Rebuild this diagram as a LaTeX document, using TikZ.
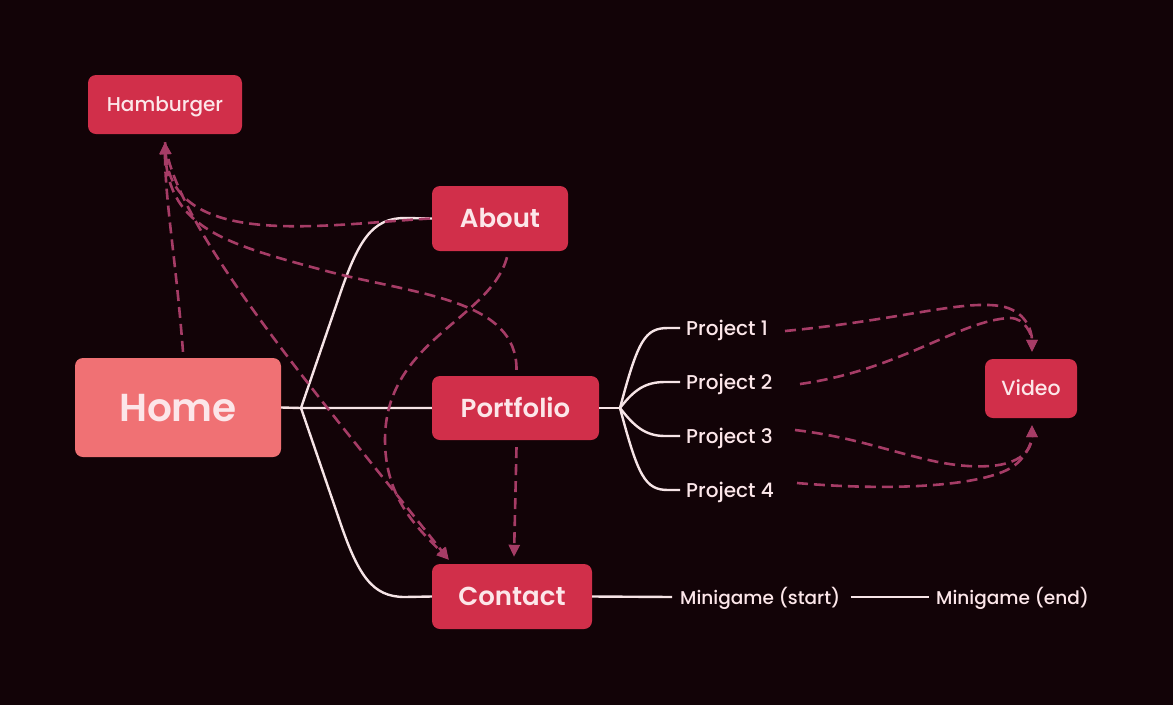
\documentclass[tikz,border=0pt]{standalone}
\usepackage{fontspec}
\setmainfont{Poppins}
\newfontfamily\semib{Poppins SemiBold}
\newfontfamily\medf{Poppins Medium}
\usetikzlibrary{arrows.meta,calc}
\definecolor{bg}{HTML}{120307}
\definecolor{boxred}{HTML}{D12F4A}
\definecolor{homered}{HTML}{F07174}
\definecolor{txt}{HTML}{FCE6E9}
\definecolor{wline}{HTML}{F6E4E6}
\definecolor{dline}{HTML}{A63C66}
\begin{document}
\begin{tikzpicture}[x=1pt,y=-1pt,
 box/.style={fill=boxred,rounded corners=8pt,text=txt,inner sep=0pt,align=center,text depth=0pt},
 bigbox/.style={box,font=\semib\fontsize{26}{30}\selectfont,text height=18.5pt},
 lab/.style={text=txt,inner xsep=6pt,inner ysep=0pt,anchor=west},
 tree/.style={draw=wline,line width=2.4pt},
 link/.style={draw=dline,line width=2.6pt,dash pattern=on 11pt off 6pt},
 tip/.style={-{Triangle[length=12pt,width=11pt]}}
]
\fill[bg] (0,0) rectangle (1173,705);
\useasboundingbox (0,0) rectangle (1173,705);

% nodes
\node[box,minimum width=154pt,minimum height=59pt,font=\medf\fontsize{20}{24}\selectfont,text height=14pt] (ham) at (165,104.5) {Hamburger};
\node[bigbox,minimum width=136pt,minimum height=65pt] (about) at (500,218.5) {About};
\node[box,fill=homered,minimum width=206pt,minimum height=99pt,font=\semib\fontsize{39}{44}\selectfont,text height=27.5pt] (home) at (178,407.5) {Home};
\node[bigbox,minimum width=167pt,minimum height=64pt] (port) at (515.5,408) {Portfolio};
\node[bigbox,minimum width=160pt,minimum height=65pt] (contact) at (512,596.5) {Contact};
\node[box,minimum width=92pt,minimum height=59pt,font=\medf\fontsize{20.5}{24}\selectfont,text height=14.5pt] (video) at (1031,388.5) {Video};

\node[lab,font=\medf\fontsize{20}{24}\selectfont] (p1) at (680,330) {Project 1};
\node[lab,font=\medf\fontsize{20}{24}\selectfont] (p2) at (680,384) {Project 2};
\node[lab,font=\medf\fontsize{20}{24}\selectfont] (p3) at (680,438) {Project 3};
\node[lab,font=\medf\fontsize{20}{24}\selectfont] (p4) at (680,492) {Project 4};
\node[lab,font=\medf\fontsize{18.5}{22}\selectfont] (mgs) at (674,598) {Minigame (start)};
\node[lab,font=\medf\fontsize{18.5}{22}\selectfont] (mge) at (930,598) {Minigame (end)};

% tree lines
\coordinate (hj) at (301,408);
\draw[tree] (home.east) -- (hj) -- (port.west);
\draw[tree] (hj) -- (338,300) .. controls (358,240) and (372,218) .. (405,218) -- (about.west);
\draw[tree] (hj) -- (338,516) .. controls (358,576) and (372,597) .. (405,597) -- (contact.west);
\coordinate (pj) at (620,408);
\draw[tree] (port.east) -- (pj);
\draw[tree] (pj) .. controls (638,340) and (645,328) .. (668,328) -- (680,328);
\draw[tree] (pj) .. controls (634,390) and (645,382) .. (665,382) -- (680,382);
\draw[tree] (pj) .. controls (634,426) and (645,436) .. (665,436) -- (680,436);
\draw[tree] (pj) .. controls (638,476) and (645,490) .. (668,490) -- (680,490);
\draw[tree] (contact.east) -- (672,597);
\draw[tree] ([xshift=4pt]mgs.east |- 0,597) -- (929,597);

% dashed links
\coordinate (hamtip) at ($(ham.south)+(0,8)$);
\coordinate (ctip) at ($(contact.north west)+(17,-4)$);
\coordinate (vtop) at ($(video.north)+(1,-7)$);
\coordinate (vbot) at ($(video.south)+(1,7)$);

\draw[link,tip] ($(home.north)+(5,-6)$) .. controls (176,260) and (165,200) .. (hamtip);
\draw[link,tip] ($(about.west)+(-2,0)$) .. controls (320,225) and (172,250) .. (hamtip);
\draw[link,tip] ($(port.north)+(1,-6)$) .. controls (517,300) and (420,295) .. (330,272)
   .. controls (230,245) and (168,230) .. (hamtip);
\draw[link,tip] (hamtip) .. controls (175,230) and (330,410) .. (ctip);
\draw[link,tip] ($(about.south)+(7,6)$) .. controls (490,320) and (385,340) .. (385,440)
   .. controls (385,500) and (420,530) .. (ctip);
\draw[link,tip] ($(port.south)+(1,7)$) -- ($(contact.north)+(2,-7)$);

\draw[link,tip] (785,331) .. controls (900,320) and (960,300) .. (1000,306)
   .. controls (1025,310) and (1032,330) .. (vtop);
\draw[link,tip] (800,384) .. controls (900,370) and (960,320) .. (1010,318)
   .. controls (1025,318) and (1032,335) .. (vtop);
\draw[link,tip] (795,430) .. controls (880,440) and (930,470) .. (990,466)
   .. controls (1020,464) and (1032,450) .. (vbot);
\draw[link,tip] (797,483) .. controls (900,492) and (990,485) .. (1015,465)
   .. controls (1028,455) and (1032,440) .. (vbot);
\end{tikzpicture}
\end{document}
